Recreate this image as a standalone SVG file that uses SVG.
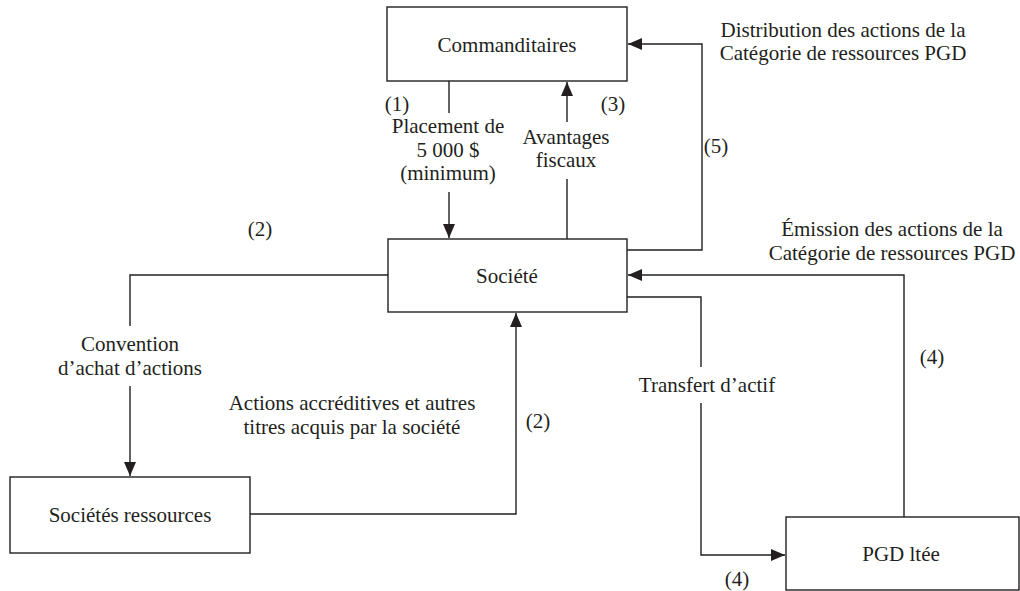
<svg xmlns="http://www.w3.org/2000/svg" width="1020" height="591" viewBox="0 0 1020 591">
<style>
.box{fill:#fff;stroke:#231f20;stroke-width:1.4}
.ln{fill:none;stroke:#231f20;stroke-width:1.4}
</style>
<defs>
<marker id="ah" markerUnits="userSpaceOnUse" markerWidth="14" markerHeight="12" refX="14" refY="6" orient="auto">
<path d="M0,0 L14,6 L0,12 z" fill="#231f20"/>
</marker>
</defs>
<rect width="1020" height="591" fill="#fff"/>
<g id="connectors" class="ln">
<line x1="449" y1="81" x2="449" y2="113"/>
<line x1="449" y1="192" x2="449" y2="238" marker-end="url(#ah)"/>
<line x1="567" y1="239" x2="567" y2="179"/>
<line x1="567" y1="122" x2="567" y2="82" marker-end="url(#ah)"/>
<path d="M627,250 H702 V44 H628" marker-end="url(#ah)"/>
<path d="M904,517 V275 H628" marker-end="url(#ah)"/>
<path d="M627,297 H701 V367"/>
<path d="M701,403 V555 H785" marker-end="url(#ah)"/>
<path d="M388,275 H130 V326"/>
<line x1="130" y1="386" x2="130" y2="476" marker-end="url(#ah)"/>
<path d="M250,514 H516 V313" marker-end="url(#ah)"/>
</g>
<g font-family="Liberation Serif, Times New Roman, serif" font-size="21" fill="#231f20" text-anchor="middle">
<g id="commanditaires">
<rect class="box" x="387" y="7" width="240" height="74"/>
<text x="507" y="52">Commanditaires</text>
</g>
<g id="societe">
<rect class="box" x="388" y="239" width="239" height="73"/>
<text x="507" y="283">Société</text>
</g>
<g id="societes-ressources">
<rect class="box" x="10" y="477" width="240" height="76"/>
<text x="130" y="522">Sociétés ressources</text>
</g>
<g id="pgd">
<rect class="box" x="786" y="517" width="233" height="73"/>
<text x="901" y="561">PGD ltée</text>
</g>
<g id="labels">
<text x="397" y="111">(1)</text>
<text x="448" y="133">Placement de</text>
<text x="448" y="157">5 000 $</text>
<text x="448" y="180">(minimum)</text>
<text x="566" y="144">Avantages</text>
<text x="566" y="167">fiscaux</text>
<text x="613" y="111">(3)</text>
<text x="843" y="37">Distribution des actions de la</text>
<text x="843" y="60">Catégorie de ressources PGD</text>
<text x="716" y="153">(5)</text>
<text x="892" y="236">Émission des actions de la</text>
<text x="892" y="260">Catégorie de ressources PGD</text>
<text x="260" y="236">(2)</text>
<text x="130" y="351">Convention</text>
<text x="130" y="375">d’achat d’actions</text>
<text x="352" y="410">Actions accréditives et autres</text>
<text x="352" y="434">titres acquis par la société</text>
<text x="538" y="428">(2)</text>
<text x="707" y="392">Transfert d’actif</text>
<text x="932" y="364">(4)</text>
<text x="737" y="586">(4)</text>
</g>
</g>
</svg>
